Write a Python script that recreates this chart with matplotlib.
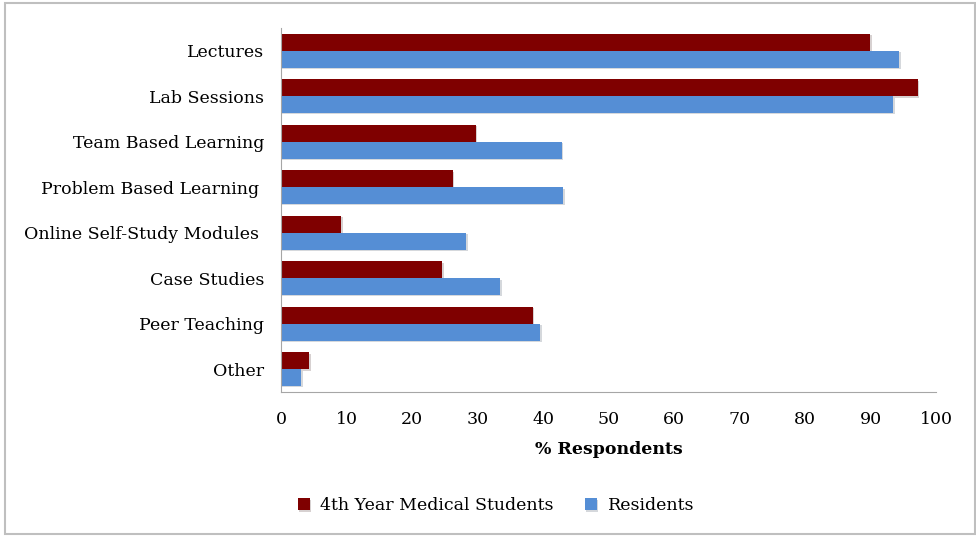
import matplotlib
matplotlib.use('Agg')
import matplotlib.pyplot as plt
import matplotlib.patheffects as pe
import numpy as np

categories = ['Lectures', 'Lab Sessions', 'Team Based Learning', 'Problem Based Learning ',
              'Online Self-Study Modules ', 'Case Studies', 'Peer Teaching', 'Other']
students = [90, 97.2, 29.7, 26.2, 9.2, 24.6, 38.4, 4.3]
residents = [94.4, 93.5, 42.9, 43.1, 28.3, 33.5, 39.6, 3.1]
xticks = [0, 10, 20, 30, 40, 50, 60, 70, 80, 90, 100]

red = '#7f0000'
blue = '#558ed5'
plt.rcParams['font.family'] = 'DejaVu Serif'

fig = plt.figure(figsize=(9.76, 5.37), dpi=100)
ax = fig.add_axes([0.288, 0.270, 0.671, 0.678])

y = np.arange(len(categories))
h = 0.37
shadow = [pe.SimplePatchShadow(offset=(1, -1), alpha=0.18), pe.Normal()]
ax.barh(y - h/2, students, height=h, color=red, label='4th Year Medical Students', path_effects=shadow)
ax.barh(y + h/2, residents, height=h, color=blue, label='Residents', path_effects=shadow)

ax.set_ylim(len(categories) - 0.5, -0.5)
ax.set_xlim(0, 100)
ax.set_yticks(y)
ax.set_yticklabels(categories, fontsize=12.5)
ax.set_xticks(xticks)
ax.tick_params(axis='x', labelsize=12.5, length=0, pad=14)
ax.tick_params(axis='y', length=0, pad=12)
ax.set_xlabel('% Respondents', fontsize=12.5, fontweight='bold', labelpad=9)

for s in ['top', 'right']:
    ax.spines[s].set_visible(False)
for s in ['left', 'bottom']:
    ax.spines[s].set_color('#a6a6a6')

fig.legend(loc='center', bbox_to_anchor=(0.508, 0.058), ncol=2, frameon=False,
           fontsize=12.5, handlelength=0.7, handleheight=0.7, handletextpad=0.6, columnspacing=1.8)

border = plt.Rectangle((0.005, 0.005), 0.994, 0.99, transform=fig.transFigure,
                       fill=False, edgecolor='#bfbfbf', linewidth=1.5)
fig.patches.append(border)

fig.savefig('out.png', dpi=100)
